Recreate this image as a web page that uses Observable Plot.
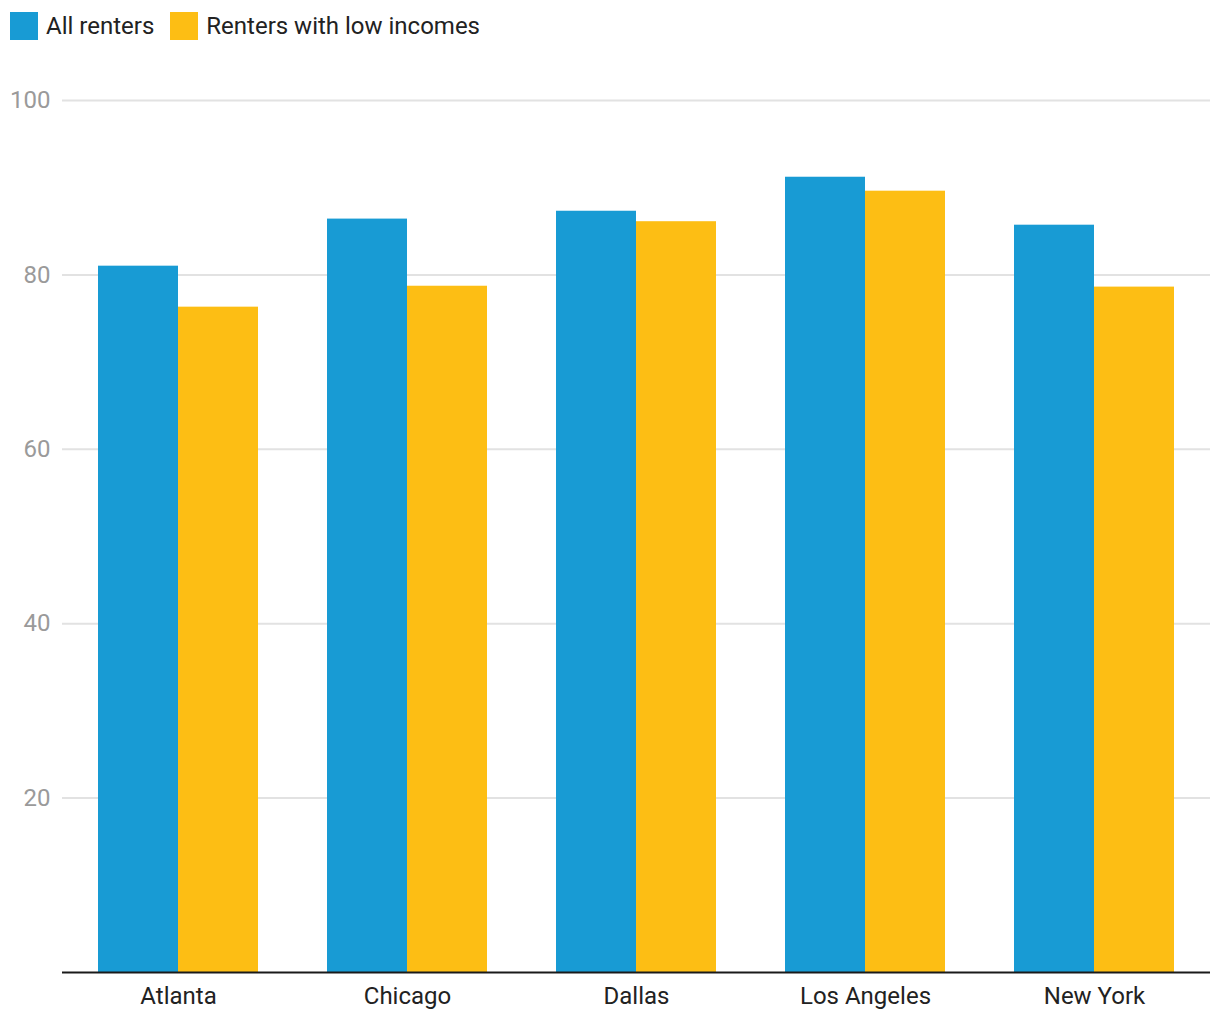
<!DOCTYPE html>
<html>
<head>
<meta charset="utf-8">
<script src="https://cdn.jsdelivr.net/npm/d3@7"></script>
<script src="https://cdn.jsdelivr.net/npm/@observablehq/plot@0.6"></script>
<style>
  html, body { margin: 0; padding: 0; background: #fff; font-family: Roboto, sans-serif; }
  #legend { height: 50px; display: flex; align-items: center; padding-left: 10px; box-sizing: border-box; padding-top: 2px; }
  .item { display: flex; align-items: center; margin-right: 16px; font-size: 24px; color: #222; }
  .sw { width: 28px; height: 28px; margin-right: 8px; }
  #chart { position: relative; width: 1220px; height: 970px; }
  #chart svg { display: block; position: absolute; left: 0; top: 0; }
</style>
</head>
<body>
<div id="legend"></div>
<div id="chart"></div>
<script>
const cities = ["Atlanta", "Chicago", "Dallas", "Los Angeles", "New York"];
const series = ["All renters", "Renters with low incomes"];
const allRenters = [81.0, 86.4, 87.3, 91.2, 85.7];
const lowIncome = [76.3, 78.7, 86.1, 89.6, 78.6];
const colors = ["#189bd4", "#fdbe14"];
const yTicks = [20, 40, 60, 80, 100];

const data = [];
cities.forEach((c, i) => {
  data.push({city: c, series: series[0], value: allRenters[i]});
  data.push({city: c, series: series[1], value: lowIncome[i]});
});

const legend = document.getElementById("legend");
series.forEach((s, i) => {
  const it = document.createElement("div");
  it.className = "item";
  it.innerHTML = `<div class="sw" style="background:${colors[i]}"></div><span>${s}</span>`;
  legend.appendChild(it);
});

const common = {
  width: 1220,
  height: 970,
  marginTop: 50,
  marginBottom: 48,
  marginLeft: 62,
  marginRight: 10,
  y: {domain: [0, 100], axis: null}
};

// Background layer: gridlines and y tick labels
const back = Plot.plot({
  ...common,
  style: {fontFamily: "Roboto, sans-serif", background: "#fff"},
  marks: [
    Plot.ruleY(yTicks, {stroke: "#e2e2e2", strokeWidth: 2}),
    Plot.text(yTicks, {y: d => d, text: d => String(d), frameAnchor: "left", dx: -12, textAnchor: "end", fill: "#9a9a9a", fontSize: 24})
  ]
});

// Foreground layer: grouped bars and city labels
const front = Plot.plot({
  ...common,
  style: {fontFamily: "Roboto, sans-serif", background: "transparent"},
  fx: {domain: cities, paddingInner: 0.3, paddingOuter: 0.15, label: null, axis: null},
  x: {domain: series, padding: 0, axis: null},
  color: {domain: series, range: colors},
  marks: [
    Plot.barY(data, {fx: "city", x: "series", y: "value", fill: "series"}),
    Plot.text(cities, {fx: d => d, frameAnchor: "bottom", lineAnchor: "middle", dy: 24, text: d => d, fill: "#222", fontSize: 24})
  ]
});

// Top layer: baseline across the full frame
const base = Plot.plot({
  ...common,
  style: {background: "transparent"},
  marks: [
    Plot.ruleY([0], {stroke: "#1a1a1a", strokeWidth: 2})
  ]
});

const el = document.getElementById("chart");
el.appendChild(back);
el.appendChild(front);
el.appendChild(base);
</script>
</body>
</html>
